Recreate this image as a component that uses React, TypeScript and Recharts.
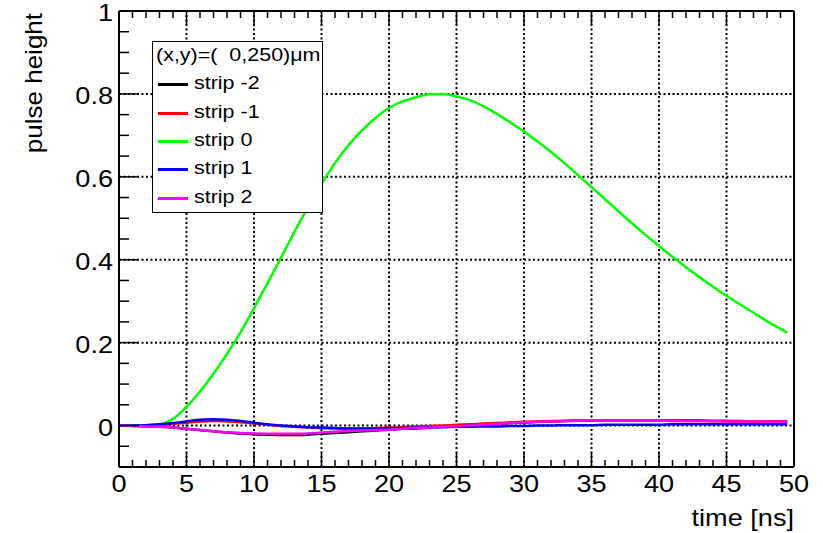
import React from "react";
import { LineChart, Line, XAxis, YAxis, ReferenceLine, Legend, Label } from "recharts";

const FONT = "'Liberation Sans', Arial, Helvetica, sans-serif";
const STRETCH = 1.13;

// time axis [ns]
const time = [
  0, 1, 2, 3, 4, 5, 6, 7, 8, 9, 10, 11, 12, 13, 14, 15, 16, 17, 18, 19, 20, 21, 22, 23, 24,
  25, 26, 27, 28, 29, 30, 31, 32, 33, 34, 35, 36, 37, 38, 39, 40, 41, 42, 43, 44, 45, 46, 47,
  48, 49, 49.5,
];

const stripM2 = [
  0, -0.001, -0.002, -0.003, -0.005, -0.008, -0.011, -0.014, -0.017, -0.019, -0.021, -0.022,
  -0.023, -0.023, -0.022, -0.02, -0.018, -0.016, -0.014, -0.012, -0.01, -0.008, -0.007, -0.005,
  -0.003, -0.002, 0, 0.002, 0.004, 0.006, 0.007, 0.009, 0.01, 0.011, 0.012, 0.012, 0.013, 0.013,
  0.013, 0.013, 0.013, 0.012, 0.012, 0.012, 0.011, 0.011, 0.011, 0.01, 0.01, 0.01, 0.01,
];

const stripM1 = [
  0, 0, 0.001, 0.002, 0.004, 0.007, 0.01, 0.011, 0.01, 0.008, 0.005, 0.002, -0.001, -0.003,
  -0.005, -0.006, -0.007, -0.007, -0.007, -0.006, -0.005, -0.004, -0.002, -0.001, 0, 0.002,
  0.003, 0.005, 0.006, 0.008, 0.009, 0.01, 0.011, 0.011, 0.012, 0.012, 0.012, 0.012, 0.012,
  0.012, 0.012, 0.012, 0.011, 0.011, 0.011, 0.011, 0.01, 0.01, 0.01, 0.01, 0.01,
];

const strip0 = [
  0, 0, 0, 0.002, 0.016, 0.045, 0.082, 0.125, 0.173, 0.225, 0.283, 0.343, 0.405, 0.467, 0.527,
  0.583, 0.633, 0.676, 0.712, 0.742, 0.766, 0.782, 0.792, 0.799, 0.8, 0.794, 0.785, 0.77, 0.752,
  0.731, 0.709, 0.685, 0.66, 0.633, 0.604, 0.575, 0.546, 0.517, 0.488, 0.46, 0.433, 0.407,
  0.382, 0.358, 0.335, 0.313, 0.292, 0.272, 0.252, 0.233, 0.224,
];

const stripP1 = [
  0, 0, 0.001, 0.003, 0.006, 0.01, 0.014, 0.015, 0.014, 0.011, 0.007, 0.003, 0, -0.002, -0.004,
  -0.005, -0.006, -0.007, -0.007, -0.007, -0.006, -0.006, -0.005, -0.004, -0.004, -0.003,
  -0.003, -0.002, -0.002, -0.001, -0.001, 0, 0, 0.001, 0.001, 0.001, 0.002, 0.002, 0.002, 0.002,
  0.002, 0.003, 0.003, 0.003, 0.003, 0.003, 0.003, 0.003, 0.003, 0.003, 0.003,
];

const stripP2 = [
  0, -0.001, -0.002, -0.003, -0.005, -0.008, -0.011, -0.014, -0.016, -0.018, -0.019, -0.02,
  -0.02, -0.02, -0.019, -0.017, -0.015, -0.013, -0.012, -0.011, -0.01, -0.008, -0.006, -0.005,
  -0.003, -0.002, 0, 0.002, 0.004, 0.006, 0.008, 0.009, 0.01, 0.011, 0.012, 0.012, 0.012, 0.012,
  0.012, 0.012, 0.012, 0.011, 0.011, 0.011, 0.011, 0.01, 0.01, 0.01, 0.009, 0.009, 0.009,
];

const seriesNames = ["strip -2", "strip -1", "strip 0", "strip 1", "strip 2"];
const seriesKeys = ["m2", "m1", "s0", "p1", "p2"];
const seriesColors = ["#000000", "#ff0000", "#00ff00", "#0000ff", "#ff00ff"];

const xGrid = [5, 10, 15, 20, 25, 30, 35, 40, 45];
const yGrid = [0, 0.2, 0.4, 0.6, 0.8];
const xTicks = Array.from({ length: 51 }, (_, i) => i);
const yTicks = Array.from({ length: 23 }, (_, i) => Math.round((-0.1 + i * 0.05) * 100) / 100);

const data = time.map((t, i) => ({
  t,
  m2: stripM2[i],
  m1: stripM1[i],
  s0: strip0[i],
  p1: stripP1[i],
  p2: stripP2[i],
}));

const isMajorX = (v: number) => v % 5 === 0;
const isMajorY = (v: number) => Math.abs(v * 5 - Math.round(v * 5)) < 1e-6;

function Txt({ x, y, anchor, size, children }: any) {
  return (
    <text
      transform={`translate(${x},${y}) scale(${STRETCH},1)`}
      textAnchor={anchor}
      fontSize={size}
      fontFamily={FONT}
      fill="#000"
    >
      {children}
    </text>
  );
}

function BottomTick({ x, y, payload }: any) {
  const major = isMajorX(payload.value);
  return (
    <g>
      <line x1={x} y1={y} x2={x} y2={y - (major ? 14 : 7)} stroke="#000" strokeWidth={1.5} />
      {major && (
        <Txt x={x} y={y + 25} anchor="middle" size={24}>
          {payload.value}
        </Txt>
      )}
    </g>
  );
}

function TopTick({ x, y, payload }: any) {
  const major = isMajorX(payload.value);
  return <line x1={x} y1={y} x2={x} y2={y + (major ? 14 : 7)} stroke="#000" strokeWidth={1.5} />;
}

function LeftTick({ x, y, payload }: any) {
  const major = isMajorY(payload.value);
  return (
    <g>
      <line x1={x} y1={y} x2={x + (major ? 20 : 10)} y2={y} stroke="#000" strokeWidth={1.5} />
      {major && (
        <Txt x={x - 6} y={y + 10} anchor="end" size={24}>
          {String(payload.value)}
        </Txt>
      )}
    </g>
  );
}

function RightTick({ x, y, payload }: any) {
  const major = isMajorY(payload.value);
  return <line x1={x} y1={y} x2={x - (major ? 20 : 10)} y2={y} stroke="#000" strokeWidth={1.5} />;
}

function XTitle({ viewBox }: any) {
  return (
    <Txt x={viewBox.x + viewBox.width} y={viewBox.y + 59} anchor="end" size={24}>
      time [ns]
    </Txt>
  );
}

function YTitle() {
  return (
    <text
      transform="translate(42,13) rotate(-90) scale(1,0.9)"
      textAnchor="end"
      fontSize={26}
      fontFamily={FONT}
      fill="#000"
    >
      pulse height
    </text>
  );
}

function LegendBox({ payload }: any) {
  const items = [...(payload || [])].sort(
    (a: any, b: any) => seriesNames.indexOf(a.value) - seriesNames.indexOf(b.value)
  );
  const rowTop = [42, 71, 99, 127, 156];
  const label: React.CSSProperties = {
    position: "absolute",
    whiteSpace: "pre",
    fontSize: 19,
    lineHeight: "20px",
    transform: `scaleX(${STRETCH})`,
    transformOrigin: "left center",
    color: "#000",
  };
  return (
    <div
      style={{
        position: "relative",
        width: 171,
        height: 172,
        boxSizing: "border-box",
        border: "1.5px solid #000",
        background: "#fff",
        fontFamily: FONT,
      }}
    >
      <div style={{ ...label, left: 3, top: 3 }}>{"(x,y)=(  0,250)\u03bcm"}</div>
      {items.map((it: any, i: number) => (
        <React.Fragment key={it.value}>
          <div
            style={{
              position: "absolute",
              left: 5,
              top: rowTop[i] - 1.5,
              width: 30,
              height: 3,
              background: it.color,
            }}
          />
          <div style={{ ...label, left: 41, top: rowTop[i] - 11 }}>{it.value}</div>
        </React.Fragment>
      ))}
    </div>
  );
}

export default function App() {
  return (
    <div style={{ position: "absolute", left: 0, top: 0, width: 823, height: 533, background: "#fff" }}>
      <LineChart width={823} height={533} data={data} margin={{ top: 1, right: 19, bottom: 36, left: 59 }}>
        {xGrid.map((v) => (
          <ReferenceLine key={`gx${v}`} x={v} stroke="#000" strokeWidth={2} strokeDasharray="2 2.5" />
        ))}
        {yGrid.map((v) => (
          <ReferenceLine key={`gy${v}`} y={v} stroke="#000" strokeWidth={2} strokeDasharray="2 2.5" />
        ))}
        <XAxis
          dataKey="t"
          type="number"
          domain={[0, 50]}
          ticks={xTicks}
          interval={0}
          tickSize={0}
          tickMargin={0}
          height={30}
          tick={BottomTick}
          axisLine={{ stroke: "#000", strokeWidth: 2 }}
          tickLine={false}
        >
          <Label content={XTitle} />
        </XAxis>
        <XAxis
          xAxisId="top"
          orientation="top"
          type="number"
          domain={[0, 50]}
          ticks={xTicks}
          interval={0}
          tickSize={0}
          tickMargin={0}
          height={10}
          tick={TopTick}
          axisLine={{ stroke: "#000", strokeWidth: 2 }}
          tickLine={false}
        />
        <YAxis
          type="number"
          domain={[-0.1, 1]}
          ticks={yTicks}
          interval={0}
          tickSize={0}
          tickMargin={0}
          width={60}
          tick={LeftTick}
          axisLine={{ stroke: "#000", strokeWidth: 2 }}
          tickLine={false}
        >
          <Label content={YTitle} />
        </YAxis>
        <YAxis
          yAxisId="right"
          orientation="right"
          type="number"
          domain={[-0.1, 1]}
          ticks={yTicks}
          interval={0}
          tickSize={0}
          tickMargin={0}
          width={10}
          tick={RightTick}
          axisLine={{ stroke: "#000", strokeWidth: 2 }}
          tickLine={false}
        />
        {seriesKeys.map((k, i) => (
          <Line
            key={k}
            type="monotone"
            dataKey={k}
            name={seriesNames[i]}
            stroke={seriesColors[i]}
            strokeWidth={2.5}
            dot={false}
            activeDot={false}
            isAnimationActive={false}
          />
        ))}
        <Legend
          layout="vertical"
          align="center"
          verticalAlign="middle"
          content={LegendBox}
          wrapperStyle={{ position: "absolute", left: 152, top: 41, width: 171, height: 172 }}
        />
      </LineChart>
    </div>
  );
}
